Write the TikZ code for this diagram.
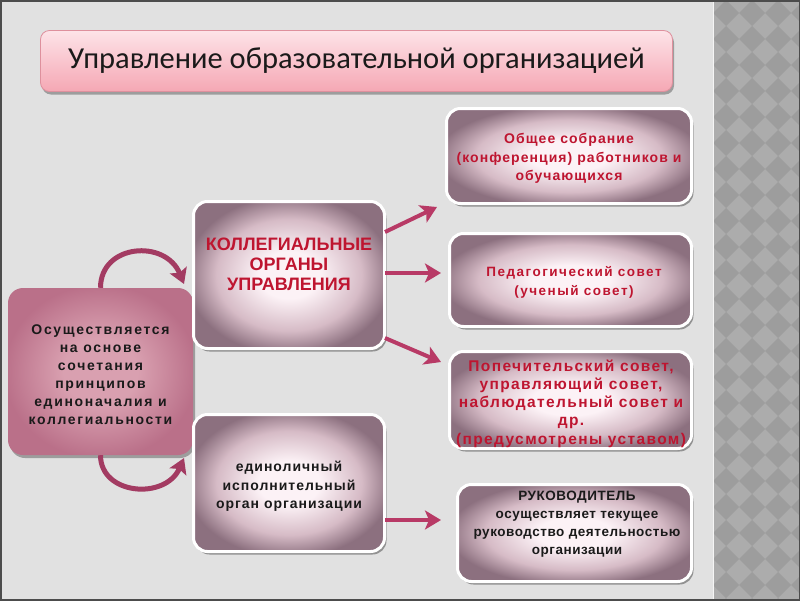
\documentclass[tikz,border=0pt]{standalone}
\usepackage{fontspec}
\setmainfont{Liberation Sans}
\newfontfamily\titlefont{Carlito}
\usetikzlibrary{arrows.meta,shadows,calc}

\definecolor{bgpage}{HTML}{E1E1E1}
\definecolor{stripe}{HTML}{ACACAC}
\definecolor{stripedk}{HTML}{9D9D9D}
\definecolor{titletop}{HTML}{FDE4E8}
\definecolor{titlebot}{HTML}{F5A7B4}
\definecolor{titleline}{HTML}{DE909D}
\definecolor{glowin}{HTML}{FCF2F6}
\definecolor{glowmid}{HTML}{D6BBC6}
\definecolor{glowout}{HTML}{8C707F}
\definecolor{rosein}{HTML}{D9A0B0}
\definecolor{roseout}{HTML}{BA7089}
\definecolor{arrowrose}{HTML}{B83A66}
\definecolor{arcrose}{HTML}{A33B62}
\definecolor{orgred}{HTML}{BE1530}
\definecolor{orgblack}{HTML}{1A1A1A}

\pgfdeclareradialshading{glowshade}{\pgfpoint{0bp}{0bp}}{color(0bp)=(glowin); color(8bp)=(glowin); color(19bp)=(glowmid); color(27bp)=(glowout); color(50bp)=(glowout)}
\pgfdeclareradialshading{roseshade}{\pgfpoint{0bp}{0bp}}{color(0bp)=(rosein); color(10bp)=(rosein); color(26bp)=(roseout); color(50bp)=(roseout)}

\newcommand\boxfont[3]{\bfseries\fontsize{#1}{#2}\selectfont\addfontfeature{LetterSpace=#3}}

\begin{document}
\begin{tikzpicture}[x=1pt, y=-1pt,
  orgbox/.style={draw=white, line width=3pt, rounded corners=14pt, shading=glowshade,
    drop shadow={shadow xshift=2pt, shadow yshift=-3pt, opacity=.35, fill=black},
    inner sep=0pt},
  basebox/.style={rounded corners=15pt, shading=roseshade,
    drop shadow={shadow xshift=2pt, shadow yshift=-3pt, opacity=.3, fill=black},
    inner sep=0pt},
  redtext/.style={align=center, inner sep=0pt, text=orgred},
  blacktext/.style={align=center, inner sep=0pt, text=orgblack},
  titlebox/.style={draw=titleline, line width=.8pt, rounded corners=9pt,
    top color=titletop, bottom color=titlebot,
    drop shadow={shadow xshift=1.5pt, shadow yshift=-3pt, opacity=.3, fill=black},
    inner sep=0pt, text=orgblack, font=\titlefont\fontsize{30.5}{33}\selectfont},
  flow/.style={draw=arrowrose, line width=4pt,
    -{Stealth[length=16pt, width=19pt, inset=4pt]}},
  turn/.style={draw=arcrose, line width=5pt,
    -{Stealth[length=15pt, width=18pt, inset=3pt]}}]

\useasboundingbox (0,0) rectangle (800,600);
\fill[bgpage] (0,0) rectangle (800,600);
\fill[stripe] (713,0) rectangle (800,600);
\begin{scope}
  \clip (713,0) rectangle (800,600);
  \foreach \i in {0,...,3}
    \foreach \j in {0,...,23}
      \fill[stripedk] (726+26*\i,13+26*\j) +(-13,0) -- +(0,-13) -- +(13,0) -- +(0,13) -- cycle;
\end{scope}
\draw[white!92!gray, line width=1pt] (713,0) -- (713,600);
\draw[gray!60!black, line width=3pt] (0,0) rectangle (800,600);

\node[titlebox, minimum width=632pt, minimum height=61pt] (title) at (356.5,61)
  {Управление образовательной организацией};

\node[basebox, minimum width=185pt, minimum height=167pt] (base) at (100.5,371.5) {};
\node[blacktext, font=\boxfont{14}{18}{12}] (baset) at (100.5,374.5)
  {Осуществляется\\на основе\\сочетания\\принципов\\единоначалия и\\коллегиальности};

\node[orgbox, minimum width=191pt, minimum height=147pt] (coll) at (289,275) {};
\node[redtext, font=\boxfont{18}{20}{0}] (collt) at (289,264)
  {КОЛЛЕГИАЛЬНЫЕ\\ОРГАНЫ\\УПРАВЛЕНИЯ};

\node[orgbox, minimum width=191pt, minimum height=137pt] (single) at (289,483) {};
\node[blacktext, font=\boxfont{14}{18.5}{7}] (singlet) at (289,486.5)
  {единоличный\\исполнительный\\орган организации};

\node[orgbox, minimum width=245pt, minimum height=95pt] (r1) at (569,156) {};
\node[redtext, font=\boxfont{14}{18.5}{7.5}] (r1t) at (569,158.5)
  {Общее собрание\\(конференция) работников и\\обучающихся};

\node[orgbox, minimum width=242pt, minimum height=93pt] (r2) at (570.5,280) {};
\node[redtext, font=\boxfont{13.5}{19}{11}] (r2t) at (574,282.5)
  {Педагогический совет\\(ученый совет)};

\node[orgbox, minimum width=242pt, minimum height=97pt] (r3) at (570.5,400) {};
\node[redtext, font=\boxfont{15.5}{18.3}{9}] (r3t) at (571,403.5)
  {Попечительский совет,\\управляющий совет,\\наблюдательный совет и\\др.\\(предусмотрены уставом)};

\node[orgbox, minimum width=234pt, minimum height=97pt] (r4) at (574.5,533) {};
\node[blacktext, font=\boxfont{13.5}{18}{4}] (r4t) at (577,524.5)
  {РУКОВОДИТЕЛЬ\\осуществляет текущее\\руководство деятельностью\\организации};

\draw[flow] ($(coll.east)+(-1,-43)$) -- ($(r1.south west)+(-8,2)$);
\draw[flow] ($(coll.east)+(-1,-2)$) -- ($(r2.west)+(-7,-7)$);
\draw[flow] ($(coll.east)+(-1,63)$) -- ($(r3.north west)+(-7,12)$);
\draw[flow] ($(single.east)+(-1,37)$) -- ($(r4.west)+(-15,-13)$);

\coordinate (upend) at ($(coll.west)+(-8,9)$);
\coordinate (downend) at ($(single.west)+(-8,-25)$);
\draw[turn] (base.north) .. controls ($(base.north)+(0,-44)$) and ($(base.north)+(65,-49)$) .. (upend);
\draw[turn] (base.south) .. controls ($(base.south)+(0,40)$) and ($(base.south)+(65,45)$) .. (downend);
\end{tikzpicture}
\end{document}
